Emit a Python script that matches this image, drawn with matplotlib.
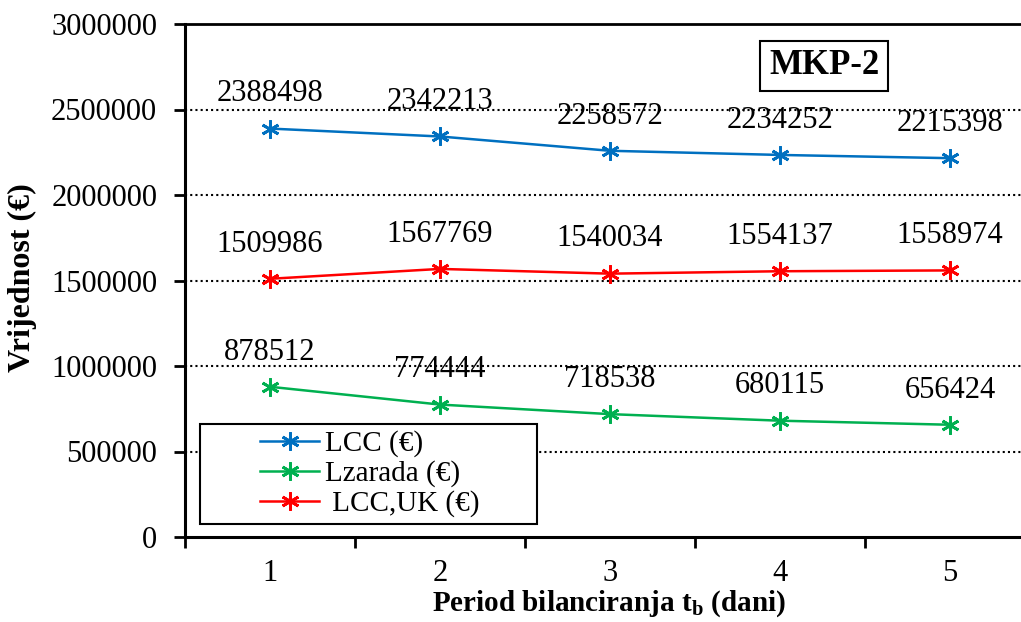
import matplotlib
matplotlib.use("Agg")
import matplotlib.pyplot as plt
from matplotlib.patches import Rectangle

plt.rcParams['font.family'] = ['Liberation Serif', 'DejaVu Serif']
plt.rcParams['mathtext.fontset'] = 'custom'
plt.rcParams['mathtext.rm'] = 'Liberation Serif'
plt.rcParams['mathtext.bf'] = 'Liberation Serif:bold'

# data
periods = [1, 2, 3, 4, 5]
lcc = [2388498, 2342213, 2258572, 2234252, 2215398]
lzarada = [878512, 774444, 718538, 680115, 656424]
lcc_uk = [1509986, 1567769, 1540034, 1554137, 1558974]
y_ticks = [0, 500000, 1000000, 1500000, 2000000, 2500000, 3000000]

series = [
    (lcc, "LCC (€)", "#0070C0"),
    (lzarada, "Lzarada (€)", "#00B050"),
    (lcc_uk, " LCC,UK (€)", "#FF0000"),
]

W, H = 1021, 622
fig = plt.figure(figsize=(W / 100, H / 100), dpi=100)
ax = fig.add_axes([185 / W, (H - 537) / H, 850 / W, 513 / H])

asterisk = (6, 2, 0)
handles = []
for vals, name, col in series:
    h, = ax.plot(periods, vals, color=col, lw=1.8, marker=asterisk,
                 markersize=13, markeredgewidth=2, label=name)
    handles.append(h)
    for x, v in zip(periods, vals):
        ax.annotate(f"{v}", (x, v), xytext=(0, 25), textcoords='offset points',
                    ha='center', va='center', fontsize=22)

ax.set_xlim(0.5, 5.5)
ax.set_ylim(0, 3000000)
ax.set_yticks(y_ticks)
ax.set_yticklabels([str(t) for t in y_ticks], fontsize=22)
ax.set_xticks(periods)
ax.set_xticklabels([str(p) for p in periods], fontsize=22)
ax.set_xticks([0.5, 1.5, 2.5, 3.5, 4.5], minor=True)
ax.tick_params(axis='x', which='major', length=0, pad=16)
ax.tick_params(axis='x', which='minor', length=8, width=2, direction='out')
ax.tick_params(axis='y', length=8, width=2, direction='out', pad=12)

for yv in y_ticks[1:-1]:
    ax.axhline(yv, color='black', lw=1.5, ls=(0, (1, 1.5)), zorder=0)

ax.spines['right'].set_visible(False)
ax.spines['left'].set_linewidth(2.2)
ax.spines['bottom'].set_linewidth(2.2)
ax.spines['top'].set_linewidth(2)

fig.text(609 / W, 3 / H, r"Period bilanciranja t$_\mathbf{b}$ (dani)",
         ha='center', va='bottom', fontsize=21, fontweight='bold')
fig.text(22 / W, 1 - 278 / H, "Vrijednost (€)", rotation=90,
         ha='center', va='center', fontsize=23, fontweight='bold')

# MKP-2 box
fig.text(824 / W, 1 - 66 / H, "MKP-2", ha='center', va='center',
         fontsize=25, fontweight='bold',
         bbox=dict(boxstyle='square,pad=0.25', fc='white', ec='black', lw=1.5))

# legend with its own frame
fig.patches.append(Rectangle((200 / W, 1 - 524 / H), 337 / W, 100 / H,
                             transform=fig.transFigure, fill=True, fc='white',
                             ec='black', lw=1.5, zorder=5))
leg = fig.legend(handles=handles, loc='upper left',
                 bbox_to_anchor=(240 / W, 1 - 410 / H), frameon=False,
                 fontsize=21, handlelength=2.0, labelspacing=0.1,
                 handletextpad=0.2, borderpad=0.2)
leg.set_zorder(6)

fig.savefig("out.png", dpi=100)
